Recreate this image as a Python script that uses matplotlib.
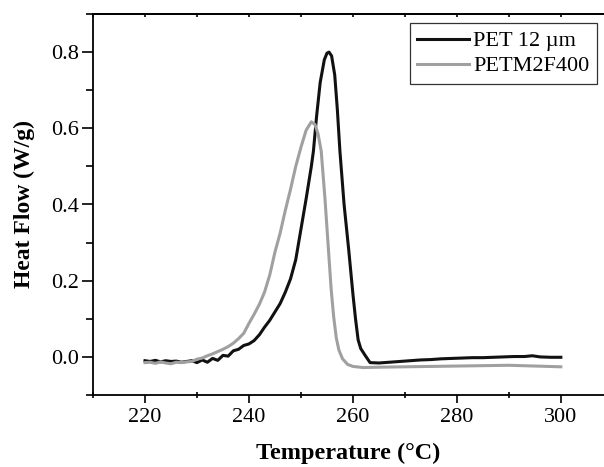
import matplotlib
matplotlib.use("Agg")
import matplotlib.pyplot as plt
from matplotlib.ticker import MultipleLocator

plt.rcParams['font.family'] = ['Liberation Serif', 'DejaVu Serif']

# PET 12 um (black)
pet_T = [220, 221, 222, 223, 224, 225, 226, 227, 228, 229, 230, 231, 232, 233, 234,
         235, 236, 237, 238, 239, 240, 241, 242, 243, 244, 245, 246, 247, 248, 249,
         250, 251, 252, 252.4, 253, 253.7, 254.5, 255, 255.4, 255.9, 256.5, 257,
         257.5, 258.3, 259.2, 260, 260.5, 261.0, 261.5, 262.3, 263.3, 265, 267, 269,
         271, 273, 275, 277, 279, 281, 283, 285, 287, 289, 291, 293, 294.5, 296, 298, 300]
pet_HF = [-0.010, -0.012, -0.009, -0.013, -0.010, -0.012, -0.011, -0.014, -0.012, -0.010,
          -0.015, -0.008, -0.014, -0.004, -0.009, 0.004, 0.002, 0.016, 0.020, 0.030,
          0.034, 0.043, 0.058, 0.078, 0.096, 0.118, 0.140, 0.170, 0.205, 0.255,
          0.335, 0.415, 0.500, 0.540, 0.630, 0.720, 0.780, 0.797, 0.800, 0.790, 0.740, 0.650,
          0.540, 0.400, 0.280, 0.165, 0.100, 0.045, 0.022, 0.005, -0.015, -0.016, -0.014, -0.012,
          -0.010, -0.008, -0.007, -0.005, -0.004, -0.003, -0.002, -0.002, -0.001, 0.000,
          0.001, 0.001, 0.003, 0.000, -0.001, -0.001]

# PETM2F400 (gray)
petm_T = [220, 221, 222, 223, 224, 225, 226, 227, 228, 229, 230, 231, 232, 233, 234,
          235, 236, 237, 238, 239, 240, 241, 242, 243, 244, 245, 246, 247, 248, 249,
          250, 251, 252, 252.7, 253.3, 253.9, 254.6, 255.3, 255.8, 256.3, 256.8, 257.3,
          258, 259, 260, 262, 265, 270, 275, 280, 285, 290, 295, 300]
petm_HF = [-0.015, -0.014, -0.017, -0.013, -0.016, -0.018, -0.014, -0.015, -0.013, -0.012,
           -0.006, -0.003, 0.003, 0.008, 0.014, 0.020, 0.027, 0.036, 0.048, 0.062,
           0.088, 0.112, 0.138, 0.170, 0.215, 0.275, 0.325, 0.385, 0.440, 0.500,
           0.550, 0.595, 0.617, 0.610, 0.585, 0.540, 0.420, 0.280, 0.180, 0.105, 0.050, 0.018,
           -0.005, -0.020, -0.025, -0.028, -0.027, -0.026, -0.025, -0.024, -0.023, -0.022, -0.024, -0.026]

x_major = [220, 240, 260, 280, 300]
y_major = [0.0, 0.2, 0.4, 0.6, 0.8]

fig = plt.figure(figsize=(6.04, 4.67), dpi=100)
ax = fig.add_axes([93/604, 1 - 395/467, 1 - 93/604, (395 - 14)/467])

ax.plot(pet_T, pet_HF, color='#111111', lw=2.2, label='PET 12 µm')
ax.plot(petm_T, petm_HF, color='#a0a0a0', lw=2.2, label='PETM2F400')

ax.set_xlim(210, 308.3)
ax.set_ylim(-0.1, 0.9)
ax.set_xticks(x_major)
ax.set_yticks(y_major)
ax.set_yticklabels([f"{v:.1f}" for v in y_major])
ax.xaxis.set_minor_locator(MultipleLocator(10))
ax.yaxis.set_minor_locator(MultipleLocator(0.1))

ax.spines['right'].set_visible(False)
for s in ['left', 'bottom', 'top']:
    ax.spines[s].set_linewidth(1.3)

ax.tick_params(axis='x', which='major', direction='out', length=6, width=1.2, labelsize=16, pad=3)
ax.tick_params(axis='x', which='minor', direction='inout', length=5, width=1.2)
ax.tick_params(axis='y', which='major', direction='out', length=8, width=1.2, labelsize=16, pad=2)
ax.tick_params(axis='y', which='minor', direction='out', length=5, width=1.2)

top = ax.secondary_xaxis('top')
top.set_xticks(x_major)
top.xaxis.set_minor_locator(MultipleLocator(10))
top.tick_params(which='both', direction='in', length=2.5, width=1.2, labeltop=False)
top.spines['top'].set_linewidth(1.3)

ax.set_xlabel('Temperature (°C)', fontsize=17.5, fontweight='bold', labelpad=12)
ax.set_ylabel('Heat Flow (W/g)', fontsize=17, fontweight='bold', labelpad=12)

leg = ax.legend(loc='upper right', bbox_to_anchor=((597 - 93)/511, (395 - 23)/381),
                borderaxespad=0, fontsize=16, frameon=True, fancybox=False,
                handlelength=2.3, handletextpad=0.2, borderpad=0.35, labelspacing=0.2)
leg.get_frame().set_edgecolor('black')
leg.get_frame().set_linewidth(0.9)

fig.savefig('out.png', dpi=100)
